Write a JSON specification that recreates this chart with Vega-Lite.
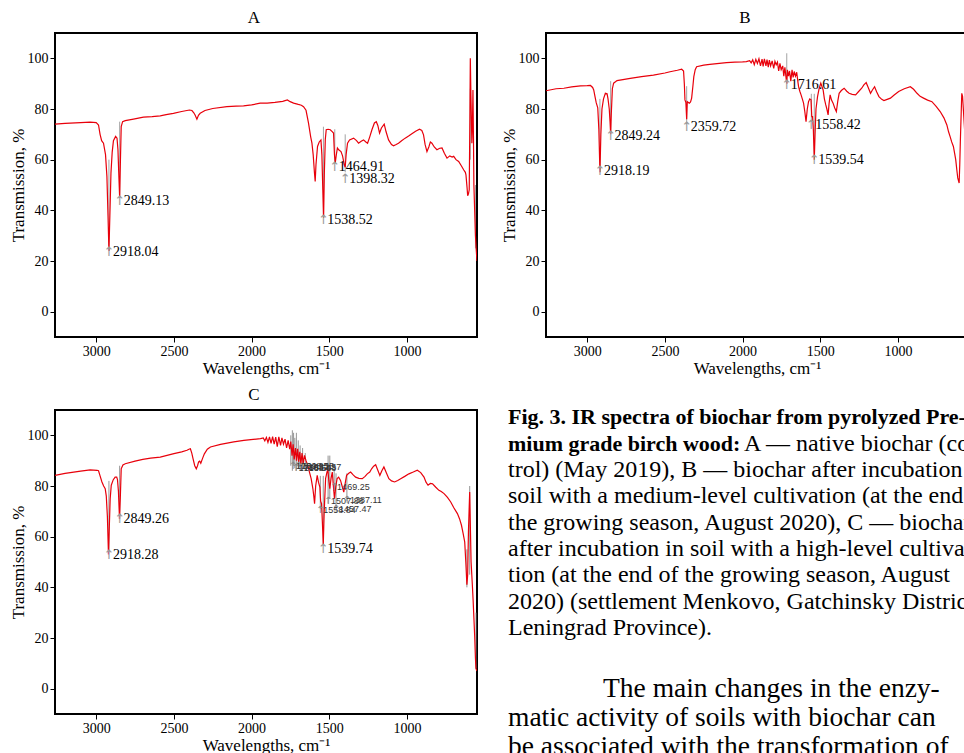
{
  "$schema": "https://vega.github.io/schema/vega-lite/v6.json",
  "padding": {"left": 8, "top": 8, "right": 0, "bottom": 0},
  "background": "white",
  "datasets": {
    "specA": [
      {"wn": 3265, "T": 74.0}, {"wn": 3200, "T": 74.3}, {"wn": 3100, "T": 74.6}, {"wn": 3039, "T": 74.8}, {"wn": 3000, "T": 74.6},
      {"wn": 2985, "T": 73.7}, {"wn": 2975, "T": 70}, {"wn": 2965, "T": 67.5}, {"wn": 2953, "T": 66.5}, {"wn": 2940, "T": 62},
      {"wn": 2931, "T": 53.4}, {"wn": 2924, "T": 38}, {"wn": 2918, "T": 24}, {"wn": 2912, "T": 38}, {"wn": 2905, "T": 54.7},
      {"wn": 2897, "T": 63}, {"wn": 2889, "T": 67.5}, {"wn": 2875, "T": 69.2}, {"wn": 2866, "T": 68.5}, {"wn": 2860, "T": 64},
      {"wn": 2855, "T": 55}, {"wn": 2849, "T": 45}, {"wn": 2844, "T": 60}, {"wn": 2839, "T": 73.1}, {"wn": 2830, "T": 75},
      {"wn": 2813, "T": 75.4}, {"wn": 2760, "T": 76}, {"wn": 2696, "T": 76.8}, {"wn": 2640, "T": 77}, {"wn": 2588, "T": 77.3},
      {"wn": 2550, "T": 77.8}, {"wn": 2503, "T": 78.3}, {"wn": 2450, "T": 79}, {"wn": 2400, "T": 79.6}, {"wn": 2384, "T": 79.4},
      {"wn": 2372, "T": 78.5}, {"wn": 2363, "T": 77.5}, {"wn": 2352, "T": 76}, {"wn": 2342, "T": 77.5}, {"wn": 2331, "T": 78.3},
      {"wn": 2300, "T": 79.4}, {"wn": 2250, "T": 80.2}, {"wn": 2159, "T": 80.9}, {"wn": 2100, "T": 81.1}, {"wn": 2052, "T": 81.2},
      {"wn": 2000, "T": 81.6}, {"wn": 1945, "T": 82.3}, {"wn": 1900, "T": 82.3}, {"wn": 1850, "T": 82.6}, {"wn": 1800, "T": 83},
      {"wn": 1770, "T": 83.6}, {"wn": 1752, "T": 82.9}, {"wn": 1730, "T": 82.3}, {"wn": 1700, "T": 81.8}, {"wn": 1680, "T": 81.5},
      {"wn": 1666, "T": 80.9}, {"wn": 1650, "T": 79.5}, {"wn": 1634, "T": 74.4}, {"wn": 1620, "T": 69}, {"wn": 1612, "T": 66.5},
      {"wn": 1604, "T": 62}, {"wn": 1596, "T": 55}, {"wn": 1591, "T": 51.4}, {"wn": 1586, "T": 58}, {"wn": 1576, "T": 65.2},
      {"wn": 1565, "T": 67}, {"wn": 1554, "T": 67.8}, {"wn": 1548, "T": 62}, {"wn": 1542, "T": 48}, {"wn": 1537, "T": 37},
      {"wn": 1532, "T": 55}, {"wn": 1526, "T": 68}, {"wn": 1520, "T": 71.8}, {"wn": 1508, "T": 72}, {"wn": 1494, "T": 71.8},
      {"wn": 1480, "T": 71}, {"wn": 1473, "T": 70.5}, {"wn": 1467, "T": 62}, {"wn": 1462, "T": 58.7}, {"wn": 1455, "T": 62},
      {"wn": 1448, "T": 64.6}, {"wn": 1438, "T": 63.8}, {"wn": 1425, "T": 63.2}, {"wn": 1415, "T": 61.5}, {"wn": 1404, "T": 58},
      {"wn": 1398, "T": 57}, {"wn": 1392, "T": 62}, {"wn": 1383, "T": 66.5}, {"wn": 1370, "T": 67.8}, {"wn": 1344, "T": 68.5},
      {"wn": 1325, "T": 67.5}, {"wn": 1312, "T": 66.5}, {"wn": 1295, "T": 67.3}, {"wn": 1280, "T": 67.8}, {"wn": 1265, "T": 67},
      {"wn": 1254, "T": 66.5}, {"wn": 1240, "T": 69}, {"wn": 1226, "T": 71.8}, {"wn": 1210, "T": 74.5}, {"wn": 1198, "T": 75},
      {"wn": 1188, "T": 73.5}, {"wn": 1177, "T": 70.5}, {"wn": 1165, "T": 72.5}, {"wn": 1147, "T": 74}, {"wn": 1135, "T": 71},
      {"wn": 1119, "T": 67.8}, {"wn": 1100, "T": 66}, {"wn": 1087, "T": 65.5}, {"wn": 1070, "T": 66}, {"wn": 1055, "T": 66.5},
      {"wn": 1035, "T": 67.5}, {"wn": 1012, "T": 68.5}, {"wn": 990, "T": 69.3}, {"wn": 969, "T": 70.2}, {"wn": 945, "T": 71.2},
      {"wn": 920, "T": 72}, {"wn": 905, "T": 71.5}, {"wn": 894, "T": 69.8}, {"wn": 884, "T": 66}, {"wn": 872, "T": 63.2},
      {"wn": 860, "T": 65}, {"wn": 850, "T": 67}, {"wn": 840, "T": 66.5}, {"wn": 825, "T": 65}, {"wn": 808, "T": 63.9},
      {"wn": 790, "T": 64.5}, {"wn": 775, "T": 64.6}, {"wn": 760, "T": 62.5}, {"wn": 743, "T": 60.6}, {"wn": 725, "T": 61.5},
      {"wn": 710, "T": 61}, {"wn": 700, "T": 61.3}, {"wn": 685, "T": 60}, {"wn": 668, "T": 59.3}, {"wn": 650, "T": 57.5},
      {"wn": 636, "T": 56}, {"wn": 625, "T": 55}, {"wn": 621, "T": 54}, {"wn": 614, "T": 49}, {"wn": 610, "T": 45.8},
      {"wn": 605, "T": 46.5}, {"wn": 600, "T": 48.1}, {"wn": 596, "T": 75}, {"wn": 593, "T": 100}, {"wn": 589, "T": 85},
      {"wn": 583, "T": 66.5}, {"wn": 579, "T": 75}, {"wn": 576, "T": 87.5}, {"wn": 573, "T": 70}, {"wn": 570, "T": 50},
      {"wn": 565, "T": 40}, {"wn": 560, "T": 30}, {"wn": 555, "T": 24.5}, {"wn": 550, "T": 20}
    ],
    "specB": [
      {"wn": 3265, "T": 87.2}, {"wn": 3200, "T": 88}, {"wn": 3150, "T": 88.2}, {"wn": 3100, "T": 88.7}, {"wn": 3043, "T": 89.1},
      {"wn": 3000, "T": 89.2}, {"wn": 2979, "T": 89.3}, {"wn": 2965, "T": 88.5}, {"wn": 2958, "T": 87.5}, {"wn": 2950, "T": 85},
      {"wn": 2942, "T": 82.5}, {"wn": 2932, "T": 80.5}, {"wn": 2925, "T": 72}, {"wn": 2918, "T": 55}, {"wn": 2912, "T": 70},
      {"wn": 2905, "T": 80}, {"wn": 2895, "T": 84}, {"wn": 2883, "T": 86.2}, {"wn": 2872, "T": 86}, {"wn": 2866, "T": 84},
      {"wn": 2858, "T": 80}, {"wn": 2853, "T": 75}, {"wn": 2849, "T": 70}, {"wn": 2845, "T": 78}, {"wn": 2838, "T": 88},
      {"wn": 2830, "T": 90.2}, {"wn": 2808, "T": 91.2}, {"wn": 2723, "T": 92.1}, {"wn": 2650, "T": 92.8}, {"wn": 2574, "T": 93.4},
      {"wn": 2500, "T": 94.2}, {"wn": 2467, "T": 94.7}, {"wn": 2420, "T": 95.3}, {"wn": 2392, "T": 95.7}, {"wn": 2380, "T": 95},
      {"wn": 2375, "T": 90}, {"wn": 2371, "T": 83.6}, {"wn": 2365, "T": 82.5}, {"wn": 2360, "T": 76}, {"wn": 2356, "T": 82.9},
      {"wn": 2343, "T": 82.3}, {"wn": 2335, "T": 82.8}, {"wn": 2328, "T": 84.3}, {"wn": 2320, "T": 89}, {"wn": 2314, "T": 92.8},
      {"wn": 2305, "T": 95.5}, {"wn": 2296, "T": 96.7}, {"wn": 2250, "T": 97.3}, {"wn": 2211, "T": 97.6}, {"wn": 2150, "T": 98},
      {"wn": 2104, "T": 98.3}, {"wn": 2050, "T": 98.5}, {"wn": 2000, "T": 98.6}, {"wn": 1976, "T": 98.7}, {"wn": 1955, "T": 99.1},
      {"wn": 1945, "T": 98.2}, {"wn": 1935, "T": 99.4}, {"wn": 1925, "T": 97.5}, {"wn": 1915, "T": 99.6}, {"wn": 1905, "T": 98},
      {"wn": 1895, "T": 99.8}, {"wn": 1885, "T": 97}, {"wn": 1875, "T": 99.7}, {"wn": 1868, "T": 96.8}, {"wn": 1860, "T": 99.8},
      {"wn": 1850, "T": 97}, {"wn": 1843, "T": 99.5}, {"wn": 1835, "T": 96.5}, {"wn": 1828, "T": 99.3}, {"wn": 1820, "T": 97},
      {"wn": 1810, "T": 99}, {"wn": 1800, "T": 96}, {"wn": 1792, "T": 98.8}, {"wn": 1784, "T": 97.5}, {"wn": 1776, "T": 98.5},
      {"wn": 1768, "T": 95}, {"wn": 1760, "T": 98}, {"wn": 1752, "T": 95.5}, {"wn": 1742, "T": 97}, {"wn": 1735, "T": 93},
      {"wn": 1728, "T": 96.5}, {"wn": 1720, "T": 92}, {"wn": 1716, "T": 90}, {"wn": 1712, "T": 95.5}, {"wn": 1705, "T": 93},
      {"wn": 1698, "T": 95}, {"wn": 1690, "T": 91}, {"wn": 1682, "T": 95.5}, {"wn": 1675, "T": 92.5}, {"wn": 1668, "T": 94.8},
      {"wn": 1660, "T": 93}, {"wn": 1652, "T": 94.5}, {"wn": 1645, "T": 91}, {"wn": 1640, "T": 88.8}, {"wn": 1632, "T": 87},
      {"wn": 1624, "T": 85.6}, {"wn": 1616, "T": 84}, {"wn": 1608, "T": 82.3}, {"wn": 1600, "T": 79}, {"wn": 1592, "T": 75},
      {"wn": 1584, "T": 80}, {"wn": 1576, "T": 82.9}, {"wn": 1568, "T": 84}, {"wn": 1560, "T": 83.6}, {"wn": 1555, "T": 77},
      {"wn": 1550, "T": 77}, {"wn": 1545, "T": 72}, {"wn": 1539, "T": 60}, {"wn": 1534, "T": 70}, {"wn": 1528, "T": 80},
      {"wn": 1518, "T": 84.9}, {"wn": 1508, "T": 88}, {"wn": 1497, "T": 90.2}, {"wn": 1490, "T": 89}, {"wn": 1482, "T": 87.5},
      {"wn": 1474, "T": 84}, {"wn": 1465, "T": 81.6}, {"wn": 1458, "T": 80}, {"wn": 1450, "T": 77.7}, {"wn": 1444, "T": 82},
      {"wn": 1437, "T": 85.6}, {"wn": 1428, "T": 83.5}, {"wn": 1418, "T": 82.3}, {"wn": 1408, "T": 80.5}, {"wn": 1397, "T": 79},
      {"wn": 1388, "T": 83}, {"wn": 1379, "T": 86.2}, {"wn": 1365, "T": 87.3}, {"wn": 1347, "T": 88.2}, {"wn": 1330, "T": 87},
      {"wn": 1315, "T": 86.2}, {"wn": 1295, "T": 85.8}, {"wn": 1273, "T": 85.6}, {"wn": 1255, "T": 86.8}, {"wn": 1234, "T": 88.2},
      {"wn": 1220, "T": 89.5}, {"wn": 1205, "T": 90.4}, {"wn": 1192, "T": 88.5}, {"wn": 1177, "T": 86.2}, {"wn": 1165, "T": 87.5},
      {"wn": 1151, "T": 88.8}, {"wn": 1138, "T": 86.8}, {"wn": 1123, "T": 84.9}, {"wn": 1105, "T": 83.8}, {"wn": 1091, "T": 83.3},
      {"wn": 1070, "T": 83.8}, {"wn": 1049, "T": 84.3}, {"wn": 1025, "T": 85.5}, {"wn": 996, "T": 86.9}, {"wn": 960, "T": 88},
      {"wn": 921, "T": 88.8}, {"wn": 900, "T": 87.8}, {"wn": 878, "T": 86.2}, {"wn": 858, "T": 85}, {"wn": 836, "T": 84.3},
      {"wn": 810, "T": 83.5}, {"wn": 782, "T": 82.9}, {"wn": 755, "T": 81}, {"wn": 729, "T": 79}, {"wn": 705, "T": 76.5},
      {"wn": 686, "T": 73.7}, {"wn": 675, "T": 71}, {"wn": 665, "T": 69.1}, {"wn": 655, "T": 67}, {"wn": 644, "T": 65.2},
      {"wn": 636, "T": 62.5}, {"wn": 629, "T": 60}, {"wn": 622, "T": 56}, {"wn": 616, "T": 52.8}, {"wn": 607, "T": 50.8},
      {"wn": 603, "T": 58}, {"wn": 599, "T": 67.8}, {"wn": 594, "T": 78}, {"wn": 590, "T": 86.2}, {"wn": 585, "T": 85},
      {"wn": 575, "T": 75}, {"wn": 560, "T": 60}, {"wn": 550, "T": 55}
    ],
    "specC": [
      {"wn": 3265, "T": 84.2}, {"wn": 3200, "T": 85}, {"wn": 3100, "T": 85.9}, {"wn": 3039, "T": 86.4}, {"wn": 2995, "T": 86.2},
      {"wn": 2985, "T": 86}, {"wn": 2975, "T": 84}, {"wn": 2963, "T": 81.6}, {"wn": 2952, "T": 80}, {"wn": 2942, "T": 78.9},
      {"wn": 2935, "T": 76}, {"wn": 2928, "T": 68}, {"wn": 2921, "T": 53}, {"wn": 2915, "T": 65}, {"wn": 2910, "T": 75},
      {"wn": 2903, "T": 80.3}, {"wn": 2890, "T": 82.5}, {"wn": 2878, "T": 83.5}, {"wn": 2868, "T": 83.5}, {"wn": 2863, "T": 82.5},
      {"wn": 2857, "T": 78}, {"wn": 2850, "T": 67}, {"wn": 2845, "T": 75}, {"wn": 2839, "T": 86.8}, {"wn": 2828, "T": 88.3},
      {"wn": 2813, "T": 88.8}, {"wn": 2750, "T": 89.8}, {"wn": 2700, "T": 90.5}, {"wn": 2650, "T": 91}, {"wn": 2588, "T": 91.4},
      {"wn": 2500, "T": 92.8}, {"wn": 2450, "T": 93.5}, {"wn": 2416, "T": 94.1}, {"wn": 2400, "T": 94.6}, {"wn": 2394, "T": 94.7},
      {"wn": 2385, "T": 93}, {"wn": 2377, "T": 90.8}, {"wn": 2366, "T": 88}, {"wn": 2356, "T": 86.8}, {"wn": 2348, "T": 88},
      {"wn": 2341, "T": 89.5}, {"wn": 2334, "T": 89.8}, {"wn": 2327, "T": 89}, {"wn": 2315, "T": 91}, {"wn": 2304, "T": 92.7},
      {"wn": 2285, "T": 94.5}, {"wn": 2265, "T": 95.4}, {"wn": 2200, "T": 96.4}, {"wn": 2115, "T": 97.4}, {"wn": 2050, "T": 98},
      {"wn": 1990, "T": 98.4}, {"wn": 1943, "T": 98.7}, {"wn": 1925, "T": 99}, {"wn": 1915, "T": 97.8}, {"wn": 1905, "T": 99.2},
      {"wn": 1895, "T": 97.2}, {"wn": 1885, "T": 99.4}, {"wn": 1875, "T": 96.8}, {"wn": 1865, "T": 99.5}, {"wn": 1855, "T": 96.5},
      {"wn": 1845, "T": 99.3}, {"wn": 1835, "T": 95.5}, {"wn": 1825, "T": 99.4}, {"wn": 1814, "T": 96}, {"wn": 1805, "T": 99},
      {"wn": 1795, "T": 96.5}, {"wn": 1785, "T": 98.5}, {"wn": 1775, "T": 95}, {"wn": 1765, "T": 98}, {"wn": 1755, "T": 94.5},
      {"wn": 1748, "T": 97.5}, {"wn": 1740, "T": 92}, {"wn": 1733, "T": 96.5}, {"wn": 1726, "T": 90.5}, {"wn": 1718, "T": 95},
      {"wn": 1711, "T": 90}, {"wn": 1704, "T": 94.7}, {"wn": 1697, "T": 89.5}, {"wn": 1690, "T": 93.5}, {"wn": 1683, "T": 88.5},
      {"wn": 1676, "T": 93}, {"wn": 1668, "T": 89}, {"wn": 1660, "T": 92.1}, {"wn": 1650, "T": 90}, {"wn": 1639, "T": 88.2},
      {"wn": 1628, "T": 85.5}, {"wn": 1617, "T": 82.9}, {"wn": 1606, "T": 79}, {"wn": 1600, "T": 76}, {"wn": 1595, "T": 73},
      {"wn": 1588, "T": 80}, {"wn": 1578, "T": 84.2}, {"wn": 1570, "T": 81.5}, {"wn": 1561, "T": 79.6}, {"wn": 1556, "T": 74},
      {"wn": 1550, "T": 73}, {"wn": 1545, "T": 66}, {"wn": 1539, "T": 57}, {"wn": 1533, "T": 70}, {"wn": 1524, "T": 82.9},
      {"wn": 1517, "T": 85}, {"wn": 1510, "T": 86.8}, {"wn": 1503, "T": 82}, {"wn": 1497, "T": 78.9}, {"wn": 1489, "T": 83},
      {"wn": 1481, "T": 85.5}, {"wn": 1474, "T": 80}, {"wn": 1467, "T": 75}, {"wn": 1458, "T": 80}, {"wn": 1450, "T": 82.9},
      {"wn": 1440, "T": 83.5}, {"wn": 1428, "T": 82.2}, {"wn": 1418, "T": 80}, {"wn": 1407, "T": 77.6}, {"wn": 1398, "T": 81},
      {"wn": 1389, "T": 84.2}, {"wn": 1375, "T": 85}, {"wn": 1363, "T": 85.5}, {"wn": 1345, "T": 84.3}, {"wn": 1331, "T": 83.5},
      {"wn": 1310, "T": 83}, {"wn": 1288, "T": 82.9}, {"wn": 1270, "T": 83.8}, {"wn": 1256, "T": 84.8}, {"wn": 1240, "T": 85.5},
      {"wn": 1228, "T": 86.8}, {"wn": 1215, "T": 87.8}, {"wn": 1202, "T": 88.4}, {"wn": 1190, "T": 86.5}, {"wn": 1175, "T": 84.2},
      {"wn": 1162, "T": 86}, {"wn": 1149, "T": 87.5}, {"wn": 1132, "T": 85}, {"wn": 1117, "T": 82.9}, {"wn": 1100, "T": 82},
      {"wn": 1080, "T": 81.6}, {"wn": 1060, "T": 82.2}, {"wn": 1041, "T": 82.9}, {"wn": 1015, "T": 83.8}, {"wn": 988, "T": 84.8},
      {"wn": 960, "T": 85.5}, {"wn": 934, "T": 86.2}, {"wn": 912, "T": 85.3}, {"wn": 891, "T": 83.5}, {"wn": 878, "T": 81.5},
      {"wn": 865, "T": 80.3}, {"wn": 850, "T": 81}, {"wn": 836, "T": 80.9}, {"wn": 815, "T": 79.5}, {"wn": 795, "T": 78.3},
      {"wn": 780, "T": 77.8}, {"wn": 762, "T": 77}, {"wn": 740, "T": 75.5}, {"wn": 719, "T": 73.7}, {"wn": 700, "T": 71.5},
      {"wn": 676, "T": 69.1}, {"wn": 662, "T": 67}, {"wn": 650, "T": 64.5}, {"wn": 640, "T": 61.5}, {"wn": 629, "T": 57.9},
      {"wn": 622, "T": 50}, {"wn": 615, "T": 41}, {"wn": 610, "T": 45}, {"wn": 605, "T": 62}, {"wn": 600, "T": 72},
      {"wn": 597, "T": 77.6}, {"wn": 593, "T": 65}, {"wn": 588, "T": 50}, {"wn": 580, "T": 41}, {"wn": 575, "T": 35},
      {"wn": 570, "T": 28}, {"wn": 565, "T": 21}, {"wn": 560, "T": 12}, {"wn": 557, "T": 8}, {"wn": 550, "T": 7}
    ],
    "markA": [
      {"wn": 2918, "lo": 26, "hi": 60}, {"wn": 2849, "lo": 46, "hi": 75},
      {"wn": 1538, "lo": 38, "hi": 73}, {"wn": 1465, "lo": 59, "hi": 72}, {"wn": 1398, "lo": 55, "hi": 70},
      {"wn": 593, "lo": 60, "hi": 88}, {"wn": 560, "lo": 25, "hi": 50}
    ],
    "markB": [
      {"wn": 2918, "lo": 57, "hi": 84}, {"wn": 2849, "lo": 71, "hi": 91},
      {"wn": 2360, "lo": 74, "hi": 89}, {"wn": 1716, "lo": 91, "hi": 102},
      {"wn": 1558, "lo": 75, "hi": 86}, {"wn": 1539, "lo": 62, "hi": 86}
    ],
    "markC": [
      {"wn": 2918, "lo": 54, "hi": 82}, {"wn": 2849, "lo": 68, "hi": 88},
      {"wn": 1748, "lo": 88, "hi": 100}, {"wn": 1738, "lo": 86, "hi": 102}, {"wn": 1730, "lo": 88, "hi": 101},
      {"wn": 1722, "lo": 87, "hi": 99}, {"wn": 1712, "lo": 86, "hi": 101}, {"wn": 1700, "lo": 87, "hi": 98},
      {"wn": 1688, "lo": 86, "hi": 96}, {"wn": 1672, "lo": 86, "hi": 95}, {"wn": 1655, "lo": 86, "hi": 93},
      {"wn": 1558, "lo": 71, "hi": 84}, {"wn": 1539, "lo": 57, "hi": 84}, {"wn": 1508, "lo": 73, "hi": 92},
      {"wn": 1497, "lo": 75, "hi": 92}, {"wn": 1469, "lo": 78, "hi": 88}, {"wn": 1457, "lo": 71, "hi": 85},
      {"wn": 1387, "lo": 74, "hi": 85}, {"wn": 615, "lo": 40, "hi": 55}, {"wn": 597, "lo": 45, "hi": 80}, {"wn": 556, "lo": 8, "hi": 30}
    ],
    "peaksA": [
      {"wn": 2918.04, "T": 23.5, "label": "2918.04"},
      {"wn": 2849.13, "T": 43.5, "label": "2849.13"},
      {"wn": 1538.52, "T": 36, "label": "1538.52"},
      {"wn": 1464.91, "T": 57, "label": "1464.91"},
      {"wn": 1398.32, "T": 52.5, "label": "1398.32"}
    ],
    "peaksB": [
      {"wn": 2918.19, "T": 55.5, "label": "2918.19"},
      {"wn": 2849.24, "T": 69.5, "label": "2849.24"},
      {"wn": 2359.72, "T": 72.8, "label": "2359.72"},
      {"wn": 1716.61, "T": 89.5, "label": "1716.61"},
      {"wn": 1558.42, "T": 73.5, "label": "1558.42"},
      {"wn": 1539.54, "T": 60, "label": "1539.54"}
    ],
    "peaksC": [
      {"wn": 2918.28, "T": 52.6, "label": "2918.28"},
      {"wn": 2849.26, "T": 66.8, "label": "2849.26"},
      {"wn": 1539.74, "T": 55.2, "label": "1539.74"}
    ],
    "peaksCsmall": [
      {"wn": 1734.25, "T": 87.8, "label": "1734.25"},
      {"wn": 1716.54, "T": 87.2, "label": "1716.54"},
      {"wn": 1698.35, "T": 87.8, "label": "1698.35"},
      {"wn": 1683.93, "T": 87.2, "label": "1683.93"},
      {"wn": 1652.57, "T": 87.5, "label": "1652.57"},
      {"wn": 1469.25, "T": 79.8, "label": "1469.25"},
      {"wn": 1507.88, "T": 74.2, "label": "1507.88"},
      {"wn": 1387.11, "T": 74.6, "label": "1387.11"},
      {"wn": 1558.84, "T": 70.6, "label": "1558.84"},
      {"wn": 1457.47, "T": 70.8, "label": "1457.47"}
    ],
    "capBold": [
      {"line": 1, "text": "Fig. 3. IR spectra of biochar from pyrolyzed Pre-"},
      {"line": 2, "text": "mium grade birch wood:"}
    ],
    "capCont": [
      {"line": 2, "text": "A — native biochar (con-"}
    ],
    "capReg": [
      {"line": 3, "text": "trol) (May 2019), B — biochar after incubation in"},
      {"line": 4, "text": "soil with a medium-level cultivation (at the end of"},
      {"line": 5, "text": "the growing season, August 2020), C — biochar"},
      {"line": 6, "text": "after incubation in soil with a high-level cultiva-"},
      {"line": 7, "text": "tion (at the end of the growing season, August"},
      {"line": 8, "text": "2020) (settlement Menkovo, Gatchinsky District,"},
      {"line": 9, "text": "Leningrad Province)."}
    ],
    "paraFirst": [
      {"line": 1, "text": "The main changes in the enzy-"}
    ],
    "paraRest": [
      {"line": 2, "text": "matic activity of soils with biochar can"},
      {"line": 3, "text": "be associated with the transformation of"}
    ]
  },
  "vconcat": [
    {
      "hconcat": [
        {
          "title": "A",
          "width": 422, "height": 304,
          "encoding": {
            "x": {"field": "wn", "type": "quantitative", "scale": {"domain": [550, 3265], "reverse": true, "nice": false, "zero": false}, "axis": {"values": [3000, 2500, 2000, 1500, 1000], "format": "d", "title": "Wavelengths, cm⁻¹"}},
            "y": {"field": "T", "type": "quantitative", "scale": {"domain": [-10, 110], "nice": false, "zero": false}, "axis": {"values": [0, 20, 40, 60, 80, 100], "title": "Transmission, %"}}
          },
          "layer": [
            {"data": {"name": "markA"}, "mark": {"type": "rule", "color": "#8c8c8c", "strokeWidth": 1, "opacity": 0.8, "clip": true},
             "encoding": {"y": {"field": "lo", "type": "quantitative", "title": "Transmission, %"}, "y2": {"field": "hi"}}},
            {"data": {"name": "specA"}, "mark": {"type": "line", "color": "#e8000b", "strokeWidth": 1.2, "clip": true}},
            {"data": {"name": "peaksA"}, "mark": {"type": "text", "text": "↑", "font": "DejaVu Sans", "fontSize": 13, "color": "#9a9a9a", "baseline": "middle", "align": "center"}},
            {"data": {"name": "peaksA"}, "mark": {"type": "text", "align": "left", "baseline": "middle", "dx": 4, "fontSize": 14, "font": "Liberation Serif", "color": "black"}, "encoding": {"text": {"field": "label"}}}
          ]
        },
        {
          "title": "B",
          "width": 422, "height": 304,
          "encoding": {
            "x": {"field": "wn", "type": "quantitative", "scale": {"domain": [550, 3265], "reverse": true, "nice": false, "zero": false}, "axis": {"values": [3000, 2500, 2000, 1500, 1000], "format": "d", "title": "Wavelengths, cm⁻¹"}},
            "y": {"field": "T", "type": "quantitative", "scale": {"domain": [-10, 110], "nice": false, "zero": false}, "axis": {"values": [0, 20, 40, 60, 80, 100], "title": "Transmission, %"}}
          },
          "layer": [
            {"data": {"name": "markB"}, "mark": {"type": "rule", "color": "#8c8c8c", "strokeWidth": 1, "opacity": 0.8, "clip": true},
             "encoding": {"y": {"field": "lo", "type": "quantitative", "title": "Transmission, %"}, "y2": {"field": "hi"}}},
            {"data": {"name": "specB"}, "mark": {"type": "line", "color": "#e8000b", "strokeWidth": 1.2, "clip": true}},
            {"data": {"name": "peaksB"}, "mark": {"type": "text", "text": "↑", "font": "DejaVu Sans", "fontSize": 13, "color": "#9a9a9a", "baseline": "middle", "align": "center"}},
            {"data": {"name": "peaksB"}, "mark": {"type": "text", "align": "left", "baseline": "middle", "dx": 4, "fontSize": 14, "font": "Liberation Serif", "color": "black"}, "encoding": {"text": {"field": "label"}}}
          ]
        }
      ],
      "spacing": 21
    },
    {
      "hconcat": [
        {
          "title": "C",
          "width": 422, "height": 304,
          "encoding": {
            "x": {"field": "wn", "type": "quantitative", "scale": {"domain": [550, 3265], "reverse": true, "nice": false, "zero": false}, "axis": {"values": [3000, 2500, 2000, 1500, 1000], "format": "d", "title": "Wavelengths, cm⁻¹"}},
            "y": {"field": "T", "type": "quantitative", "scale": {"domain": [-10, 110], "nice": false, "zero": false}, "axis": {"values": [0, 20, 40, 60, 80, 100], "title": "Transmission, %"}}
          },
          "layer": [
            {"data": {"name": "markC"}, "mark": {"type": "rule", "color": "#7a7a7a", "strokeWidth": 1, "opacity": 0.8, "clip": true},
             "encoding": {"y": {"field": "lo", "type": "quantitative", "title": "Transmission, %"}, "y2": {"field": "hi"}}},
            {"data": {"name": "specC"}, "mark": {"type": "line", "color": "#e8000b", "strokeWidth": 1.2, "clip": true}},
            {"data": {"name": "peaksCsmall"}, "mark": {"type": "text", "text": "↑", "font": "DejaVu Sans", "fontSize": 10, "color": "#8a8a8a", "baseline": "middle", "align": "center"}},
            {"data": {"name": "peaksCsmall"}, "mark": {"type": "text", "align": "left", "baseline": "middle", "dx": 3, "fontSize": 9, "font": "Liberation Sans", "color": "#333333"}, "encoding": {"text": {"field": "label"}}},
            {"data": {"name": "peaksC"}, "mark": {"type": "text", "text": "↑", "font": "DejaVu Sans", "fontSize": 13, "color": "#9a9a9a", "baseline": "middle", "align": "center"}},
            {"data": {"name": "peaksC"}, "mark": {"type": "text", "align": "left", "baseline": "middle", "dx": 4, "fontSize": 14, "font": "Liberation Serif", "color": "black"}, "encoding": {"text": {"field": "label"}}}
          ]
        },
        {
          "width": 460, "height": 370,
          "view": {"stroke": null},
          "encoding": {
            "x": {"datum": 0, "type": "quantitative", "scale": {"domain": [0, 1]}, "axis": null}
          },
          "layer": [
            {"data": {"name": "capBold"}, "mark": {"type": "text", "align": "left", "baseline": "middle", "font": "Liberation Serif", "fontSize": 22, "fontWeight": "bold", "color": "black"},
             "encoding": {"y": {"field": "line", "type": "quantitative", "scale": {"domain": [0.7186, 14.787], "reverse": true, "nice": false, "zero": false}, "axis": null}, "text": {"field": "text"}}},
            {"data": {"name": "capCont"}, "mark": {"type": "text", "align": "left", "baseline": "middle", "dx": 236, "font": "Liberation Serif", "fontSize": 24, "color": "black"},
             "encoding": {"y": {"field": "line", "type": "quantitative", "scale": {"domain": [0.7186, 14.787], "reverse": true, "nice": false, "zero": false}, "axis": null}, "text": {"field": "text"}}},
            {"data": {"name": "capReg"}, "mark": {"type": "text", "align": "left", "baseline": "middle", "font": "Liberation Serif", "fontSize": 24, "color": "black"},
             "encoding": {"y": {"field": "line", "type": "quantitative", "scale": {"domain": [0.7186, 14.787], "reverse": true, "nice": false, "zero": false}, "axis": null}, "text": {"field": "text"}}},
            {"data": {"name": "paraFirst"}, "mark": {"type": "text", "align": "left", "baseline": "middle", "dx": 95, "font": "Liberation Serif", "fontSize": 27.5, "color": "black"},
             "encoding": {"y": {"field": "line", "type": "quantitative", "scale": {"domain": [-8.555, 4.116], "reverse": true, "nice": false, "zero": false}, "axis": null}, "text": {"field": "text"}}},
            {"data": {"name": "paraRest"}, "mark": {"type": "text", "align": "left", "baseline": "middle", "font": "Liberation Serif", "fontSize": 27.5, "color": "black"},
             "encoding": {"y": {"field": "line", "type": "quantitative", "scale": {"domain": [-8.555, 4.116], "reverse": true, "nice": false, "zero": false}, "axis": null}, "text": {"field": "text"}}}
          ],
          "resolve": {"scale": {"y": "independent"}}
        }
      ],
      "spacing": 30
    }
  ],
  "spacing": 8,
  "config": {
    "font": "Liberation Serif",
    "view": {"stroke": "black", "strokeWidth": 2},
    "axis": {"grid": false, "domain": false, "ticks": true, "tickColor": "black", "tickSize": 5, "tickWidth": 1, "labelFont": "Liberation Serif", "labelFontSize": 14, "labelColor": "black", "titleFont": "Liberation Serif", "titleFontSize": 17, "titleFontWeight": "normal", "titleColor": "black", "labelPadding": 2, "titlePadding": 2},
    "axisY": {"titlePadding": 0},
    "title": {"font": "Liberation Serif", "fontSize": 17, "fontWeight": "normal", "offset": 6, "dx": -12, "color": "black"}
  }
}
